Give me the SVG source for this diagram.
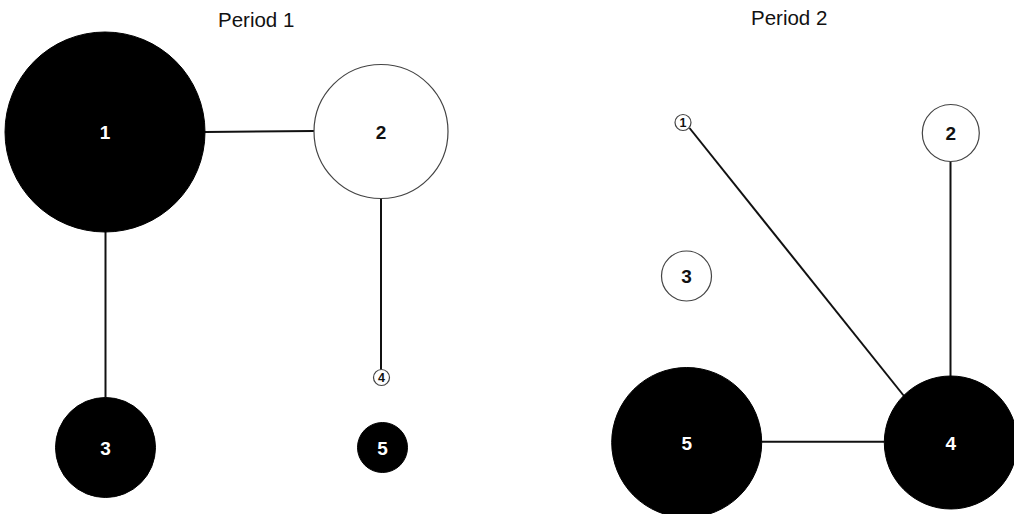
<svg xmlns="http://www.w3.org/2000/svg" width="1014" height="514" viewBox="0 0 1014 514">
<style>
.title{font-family:"Liberation Sans",Arial,sans-serif;font-size:20.5px;fill:#111}
.edge{stroke:#111;stroke-width:2;fill:none}
.dark{fill:#000;stroke:#000;stroke-width:1}
.light{fill:#fff;stroke:#444;stroke-width:1.2}
.lw{font-family:"Liberation Sans",Arial,sans-serif;font-weight:bold;font-size:19px;fill:#fff;text-anchor:middle}
.lb{font-family:"Liberation Sans",Arial,sans-serif;font-weight:bold;font-size:19px;fill:#111;text-anchor:middle}
.ls{font-family:"Liberation Sans",Arial,sans-serif;font-weight:bold;font-size:12.5px;fill:#111;text-anchor:middle}
</style>
<rect width="1014" height="514" fill="#fff"/>
<text class="title" x="218" y="27">Period 1</text>
<text class="title" x="751" y="24.5">Period 2</text>
<g id="connectors">
<line class="edge" x1="205" y1="132" x2="314" y2="131"/>
<line class="edge" x1="105.5" y1="232" x2="105.5" y2="397.5"/>
<line class="edge" x1="381" y1="198.5" x2="381" y2="370"/>
<line class="edge" x1="689.5" y1="128" x2="904" y2="396"/>
<line class="edge" x1="950.5" y1="161.5" x2="950.5" y2="376"/>
<line class="edge" x1="761.5" y1="441.7" x2="884.5" y2="441.7"/>
</g>
<g id="p1-node1"><circle class="dark" cx="105" cy="132" r="100"/><text class="lw" x="105" y="139">1</text></g>
<g id="p1-node2"><circle class="light" cx="381" cy="131.5" r="67"/><text class="lb" x="381" y="139">2</text></g>
<g id="p1-node3"><circle class="dark" cx="105.5" cy="447.5" r="50"/><text class="lw" x="105.5" y="454.5">3</text></g>
<g id="p1-node4"><circle class="light" cx="381.5" cy="377.5" r="8"/><text class="ls" x="381.5" y="382">4</text></g>
<g id="p1-node5"><circle class="dark" cx="382.5" cy="447.5" r="25"/><text class="lw" x="382.5" y="454.5">5</text></g>
<g id="p2-node1"><circle class="light" cx="683" cy="122.5" r="8"/><text class="ls" x="683" y="127">1</text></g>
<g id="p2-node2"><circle class="light" cx="950.8" cy="133" r="28.5"/><text class="lb" x="950.8" y="140">2</text></g>
<g id="p2-node3"><circle class="light" cx="686.5" cy="276" r="25"/><text class="lb" x="686.5" y="283">3</text></g>
<g id="p2-node4"><circle class="dark" cx="950.8" cy="442.5" r="66.5"/><text class="lw" x="950.8" y="449.5">4</text></g>
<g id="p2-node5"><circle class="dark" cx="686.7" cy="442.5" r="75"/><text class="lw" x="686.7" y="449.5">5</text></g>
</svg>
